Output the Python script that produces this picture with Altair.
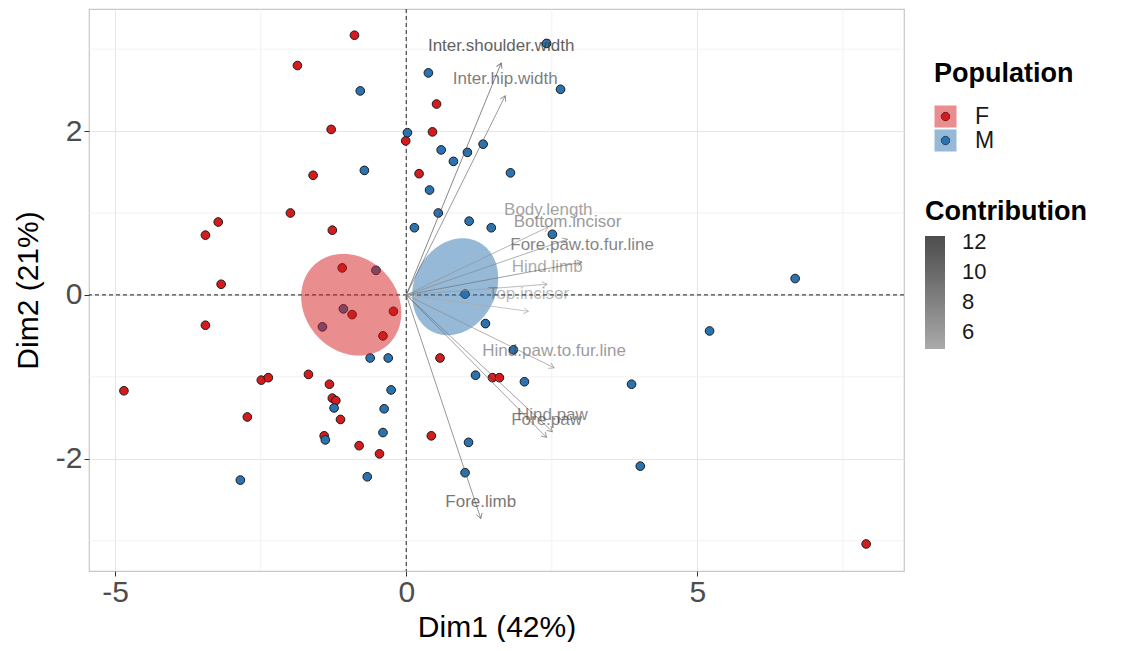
import math
import numpy as np
import pandas as pd
import altair as alt

FONT = "Liberation Sans"

# ---------------- individuals (PCA scores) ----------------
f_x = [-0.89, -1.87, -1.29, -0.01, 0.45, 0.52, 0.22, -1.60, -1.99, -3.23,
       -3.45, -1.27, -3.18, -1.10, -3.45, -0.93, -0.22, -0.40, -4.85, -2.49,
       -2.37, -1.68, -1.32, -1.27, -1.21, -1.13, -2.73, -1.41, -0.81, -0.46,
       0.58, 0.43, 1.48, 1.60, 7.90]
f_y = [3.17, 2.80, 2.02, 1.88, 1.99, 2.33, 1.48, 1.46, 1.00, 0.89,
       0.73, 0.79, 0.13, 0.33, -0.37, -0.24, -0.20, -0.50, -1.17, -1.04,
       -1.01, -0.97, -1.09, -1.26, -1.29, -1.52, -1.49, -1.72, -1.84, -1.94,
       -0.77, -1.72, -1.01, -1.01, -3.04]
m_x = [2.41, 0.38, -0.79, 2.65, 0.02, 0.60, 0.81, 1.05, 1.32, -0.72,
       0.40, 1.79, 0.55, 0.14, 1.08, 1.46, 2.51, 1.01, 1.36, 1.84,
       6.68, 5.21, 3.87, 4.02, 2.03, 1.19, 1.07, 1.01, -0.62, -0.31,
       -0.26, -0.38, -0.40, -1.24, -1.39, -0.67, -2.85, -0.52, -1.08, -1.44]
m_y = [3.07, 2.71, 2.49, 2.51, 1.98, 1.77, 1.63, 1.74, 1.84, 1.52,
       1.28, 1.49, 1.00, 0.82, 0.90, 0.82, 0.74, 0.01, -0.35, -0.67,
       0.20, -0.44, -1.09, -2.09, -1.06, -0.98, -1.80, -2.17, -0.77, -0.77,
       -1.16, -1.39, -1.68, -1.38, -1.77, -2.22, -2.26, 0.30, -0.17, -0.39]

# ---------------- variables (arrows) ----------------
var_names = ["Inter.shoulder.width", "Inter.hip.width", "Body.length", "Bottom.incisor",
             "Fore.paw.to.fur.line", "Hind.limb", "Top.incisor", "Hind.paw.to.fur.line",
             "Hind.paw", "Fore.paw", "Fore.limb"]
var_x = [1.63, 1.70, 2.44, 2.77, 3.02, 2.42, 2.10, 2.54, 2.51, 2.41, 1.28]
var_y = [2.83, 2.43, 0.83, 0.68, 0.40, 0.13, -0.20, -0.89, -1.67, -1.74, -2.73]
var_contrib = [12.4, 10.0, 6.8, 7.6, 9.4, 6.2, 4.9, 7.4, 9.0, 9.2, 10.5]

# ---------------- concentration ellipses (centre / spread) ----------------
ell_groups = ["F ", "M "]
ell_cx = [-0.945, 0.84]
ell_cy = [-0.12, 0.10]
ell_sxx = [0.74, 0.546]
ell_syy = [0.385, 0.35]
ell_sxy = [-0.084, 0.077]

# ---------------- axes ----------------
x_ticks = [-5, 0, 5]
y_ticks = [-2, 0, 2]
x_minor = [-2.5, 2.5, 7.5]
y_minor = [-3, -1, 1, 3]
legend_ticks = [6, 8, 10, 12]

W, H = 815, 562
XDOM = [-5.45, 8.55]
YDOM = [-3.37, 3.49]

RED, BLUE = "#d41c1e", "#2b73b0"

pts = pd.DataFrame({
    "x": f_x + m_x,
    "y": f_y + m_y,
    "Population": ["F"] * len(f_x) + ["M"] * len(m_x),
})

rows = []
t = np.linspace(0, math.pi, 140)
for g, cx, cy, sxx, syy, sxy in zip(ell_groups, ell_cx, ell_cy, ell_sxx, ell_syy, ell_sxy):
    a = math.sqrt(sxx)
    b = sxy / a
    c = math.sqrt(syy - b * b)
    for tt in t:
        rows.append({"grp": g,
                     "x": cx + a * math.cos(tt),
                     "y": cy + b * math.cos(tt) + c * math.sin(tt),
                     "y2": cy + b * math.cos(tt) - c * math.sin(tt)})
ell = pd.DataFrame(rows)

sx = W / (XDOM[1] - XDOM[0])
sy = H / (YDOM[1] - YDOM[0])
var = pd.DataFrame({
    "name": var_names,
    "x0": [0.0] * len(var_names),
    "y0": [0.0] * len(var_names),
    "x": var_x,
    "y": var_y,
    "Contribution": var_contrib,
})
var["angle"] = [(math.degrees(math.atan2(dx * sx, dy * sy))) % 360 for dx, dy in zip(var_x, var_y)]

xs = alt.Scale(domain=XDOM, nice=False, zero=False)
ys = alt.Scale(domain=YDOM, nice=False, zero=False)

LBL = "'' + datum.value"
xaxis = alt.Axis(values=x_ticks, title="Dim1 (42%)", labelFontSize=30, titleFontSize=30,
                 labelColor="#4d4d4d", titleColor="#000000", titleFontWeight="normal",
                 domain=False, tickColor="#333333", tickSize=5, gridColor="#e6e6e6",
                 labelPadding=1, titlePadding=5, labelFont=FONT, titleFont=FONT,
                 labelExpr=LBL)
yaxis = alt.Axis(values=y_ticks, title="Dim2 (21%)", labelFontSize=30, titleFontSize=30,
                 labelColor="#4d4d4d", titleColor="#000000", titleFontWeight="normal",
                 domain=False, tickColor="#333333", tickSize=5, gridColor="#e6e6e6",
                 labelPadding=2, titlePadding=12, labelFont=FONT, titleFont=FONT,
                 labelExpr=LBL)


def X(f):
    return alt.X(f, scale=xs, axis=xaxis)


def Y(f):
    return alt.Y(f, scale=ys, axis=yaxis)


minor_v = alt.Chart(pd.DataFrame({"x": x_minor})).mark_rule(
    color="#efefef", strokeWidth=0.8).encode(x=X("x:Q"))
minor_h = alt.Chart(pd.DataFrame({"y": y_minor})).mark_rule(
    color="#efefef", strokeWidth=0.8).encode(y=Y("y:Q"))

zero_v = alt.Chart(pd.DataFrame({"x": [0]})).mark_rule(
    color="#444444", strokeWidth=1.2, strokeDash=[4, 3]).encode(x=X("x:Q"))
zero_h = alt.Chart(pd.DataFrame({"y": [0]})).mark_rule(
    color="#444444", strokeWidth=1.2, strokeDash=[4, 3]).encode(y=Y("y:Q"))

leg_common = dict(orient="none", titleFontSize=27, titleFontWeight="bold", titleColor="#000000",
                  labelFontSize=23, labelColor="#1a1a1a", padding=0, rowPadding=0,
                  titleFont=FONT, labelFont=FONT, titlePadding=17)

points = alt.Chart(pts).mark_point(filled=True, size=75, stroke="#1a1a1a", strokeWidth=1,
                                    opacity=1).encode(
    x=X("x:Q"), y=Y("y:Q"),
    color=alt.Color("Population:N", scale=alt.Scale(domain=["F", "M"], range=[RED, BLUE]),
                    legend=alt.Legend(title=" ", legendX=845, legendY=52,
                                      symbolType="circle", symbolSize=70,
                                      symbolStrokeColor="#1a1a1a", symbolStrokeWidth=1,
                                      titleOpacity=0, labelOpacity=0, labelOffset=31,
                                      labelExpr="' '", **leg_common)),
)

ellipses = alt.Chart(ell).mark_area(opacity=0.5).encode(
    x=X("x:Q"), y=Y("y:Q"), y2="y2:Q",
    fill=alt.Fill("grp:N", scale=alt.Scale(domain=ell_groups, range=[RED, BLUE]),
                  legend=alt.Legend(title="Population", legendX=845, legendY=52,
                                    symbolType="square", symbolSize=484, symbolStrokeWidth=0,
                                    symbolOpacity=0.5, labelOffset=18, **leg_common)),
)

stroke_scale = alt.Scale(range=["#aaaaaa", "#4d4d4d"])

arrows = alt.Chart(var).mark_rule(strokeWidth=0.9, strokeOpacity=0.75).encode(
    x=X("x0:Q"), y=Y("y0:Q"), x2="x:Q", y2="y:Q",
    stroke=alt.Stroke("Contribution:Q", scale=stroke_scale,
                      legend=alt.Legend(title="Contribution", orient="none", legendX=836, legendY=190,
                                        direction="vertical", gradientLength=113,
                                        gradientThickness=20, gradientStrokeWidth=0,
                                        values=legend_ticks, titleFontSize=27,
                                        titleFontWeight="bold", titleColor="#000000",
                                        labelFontSize=22, labelColor="#1a1a1a", padding=0,
                                        titlePadding=10, labelOffset=17,
                                        titleFont=FONT, labelFont=FONT)),
)

heads = alt.Chart(var).mark_point(shape="M -0.6 1 L 0 0 L 0.6 1", size=100, filled=False,
                                   strokeWidth=0.9, opacity=0.75).encode(
    x=X("x:Q"), y=Y("y:Q"),
    stroke=alt.Stroke("Contribution:Q", scale=stroke_scale, legend=None),
    angle=alt.Angle("angle:Q", scale=None),
)

labels = alt.Chart(var).mark_text(font=FONT, fontSize=17, dy=-17, align="center",
                                  baseline="middle", color="#3a3a3a").encode(
    x=X("x:Q"), y=Y("y:Q"), text="name:N",
    opacity=alt.Opacity("Contribution:Q", scale=alt.Scale(range=[0.35, 0.8]), legend=None),
)

chart = alt.layer(minor_v, minor_h, zero_v, zero_h, points, ellipses, arrows, heads, labels).properties(
    width=W, height=H,
    padding={"left": 5, "top": 0, "right": 5, "bottom": 0},
    background="white",
).configure_view(stroke="#c8c8c8", strokeWidth=1.2)

chart.save("out.html", embed_options={"renderer": "svg", "actions": False})
